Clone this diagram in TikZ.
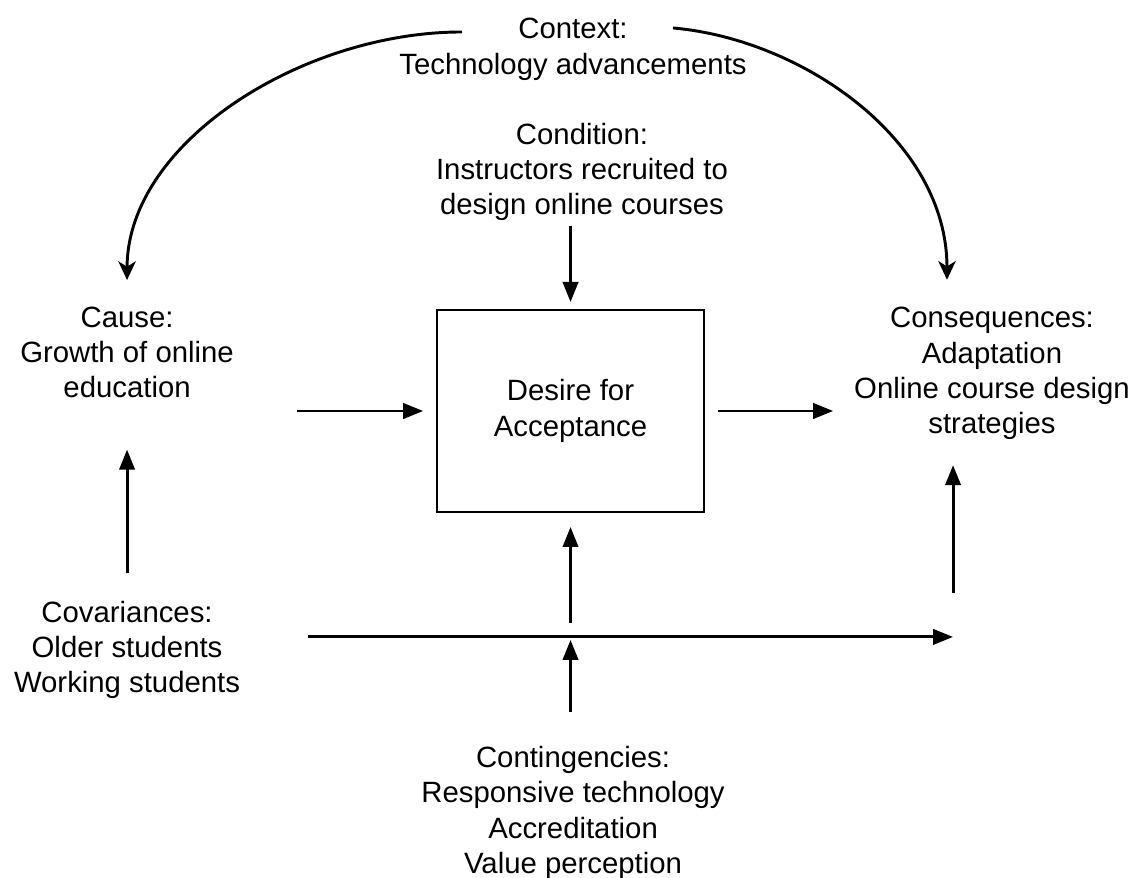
\documentclass[tikz,border=0pt]{standalone}
\usepackage{fontspec}
\setmainfont{Liberation Sans}
\usepackage{tikz}
\usetikzlibrary{arrows.meta}
\usetikzlibrary{positioning}

\begin{document}
\begin{tikzpicture}[->, >={Triangle[length=15pt, width=11.5pt]}, line width=2.2pt, node distance=300pt]
\tikzstyle{every node} = [font=\fontsize{22}{26.5}\selectfont, align=center, inner sep=0pt, outer sep=0pt]
\tikzstyle{core} = [draw, line width=1.2pt, minimum width=200pt, minimum height=151.5pt]
\tikzstyle{ctxarrow} = [>={Stealth[length=14pt, width=13pt, inset=4pt]}]

\useasboundingbox (-427.9pt,-350.25pt) rectangle (424.1pt,308.25pt);

\node[core] (desire) {Desire for\\Acceptance};
\node (cause)[left of=desire, node distance=332.6pt, yshift=43.9pt] {Cause:\\Growth of online\\education};
\node (conseq)[right of=desire, node distance=316.1pt, yshift=28.1pt] {Consequences:\\Adaptation\\Online course design\\strategies};
\node (cond)[above of=desire, node distance=179.25pt, xshift=8.6pt] {Condition:\\Instructors recruited to\\design online courses};
\node (ctx)[above of=cond, node distance=91.9pt, xshift=-6.75pt] {Context:\\Technology advancements};
\node (covar)[below of=cause, node distance=223.1pt] {Covariances:\\Older students\\Working students};
\node (cont)[below of=desire, node distance=301.5pt, xshift=1.9pt] {Contingencies:\\Responsive technology\\Accreditation\\Value perception};

\coordinate[right of=covar, node distance=619.5pt, yshift=9.75pt] (join);
\coordinate (cross) at (desire.south |- join);

\path (cause.east |- desire.west) edge[shorten <=47.4pt, shorten >=10.5pt] (desire.west)
	(desire.east) edge[shorten <=10.5pt, shorten >=15.75pt] (desire.east -| conseq.west)
	(desire.north |- cond.south) edge[shorten <=4pt, shorten >=6pt] (desire.north)
	(covar.north) edge[shorten <=20.6pt, shorten >=38.6pt] (cause.south)
	(covar.east |- join) edge[shorten <=50.8pt] (join)
	([yshift=33pt]join) edge[shorten >=19pt] (join |- conseq.south)
	(desire.south |- cont.north) edge[shorten <=26pt, shorten >=2.25pt] (cross)
	(cross) edge[shorten <=10.5pt, shorten >=11.25pt] (desire.south)
	;

\path ([xshift=-83.25pt, yshift=-10.1pt]ctx.north) edge[ctxarrow, out=180, in=90, out distance=120pt, in distance=103pt] ([yshift=20pt]cause.north)
	([xshift=75pt, yshift=-7.1pt]ctx.north) edge[ctxarrow, out=-5, in=90, out distance=97.5pt, in distance=105pt] ([xshift=-33.75pt, yshift=20.6pt]conseq.north)
	;

\end{tikzpicture}
\end{document}
